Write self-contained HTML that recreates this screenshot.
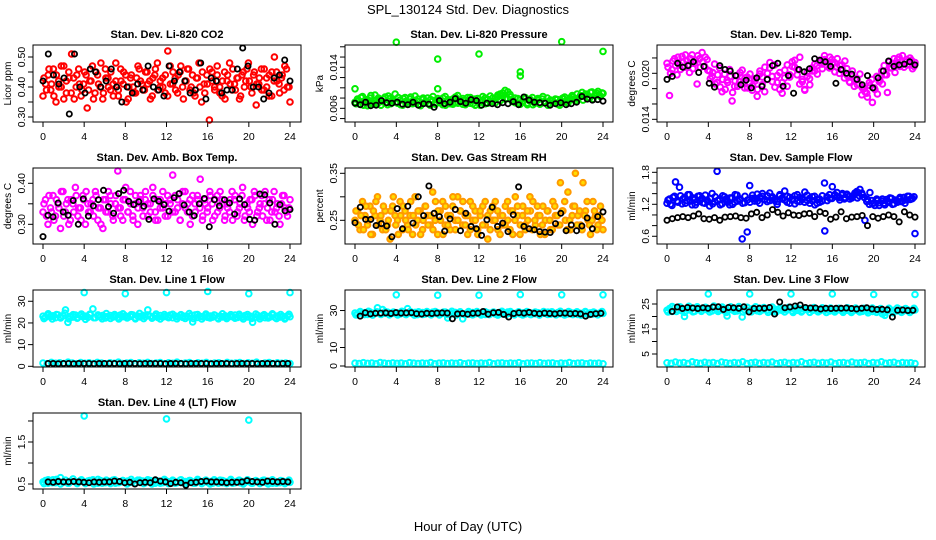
<!DOCTYPE html>
<html><head><meta charset="utf-8"><style>
html,body{margin:0;padding:0;background:#fff;}
svg{display:block;font-family:"Liberation Sans",Arial,sans-serif;}
</style></head><body>
<svg id="chart" width="936" height="540" viewBox="0 0 936 540">
<text x="468" y="14" text-anchor="middle" font-size="13">SPL_130124  Std. Dev. Diagnostics</text>
<text x="468" y="531" text-anchor="middle" font-size="13">Hour of Day (UTC)</text>
</svg>
<script>
const xTicks=[0,4,8,12,16,20,24];
const co2Main=[0.37,0.41,0.44,0.39,0.46,0.35,0.42,0.40,0.47,0.38,0.43,0.51,0.36,0.44,0.41,0.39,0.45,0.33,0.42,0.47,0.38,0.44,0.40,0.36,0.46,0.43,0.39,0.41,0.48,0.37,0.42,0.45,0.35,0.40,0.44,0.38,0.43,0.46,0.41,0.39,0.45,0.42,0.37,0.44,0.48,0.40,0.43,0.38,0.52,0.41,0.45,0.39,0.44,0.47,0.36,0.42,0.46,0.40,0.38,0.43,0.48,0.35,0.41,0.44,0.29,0.45,0.40,0.47,0.38,0.42,0.36,0.44,0.41,0.46,0.39,0.43,0.37,0.45,0.42,0.48,0.40,0.44,0.34,0.41,0.46,0.39,0.43,0.37,0.45,0.50,0.42,0.38,0.44,0.47,0.40,0.35];
const co2B=[0.43,0.39,0.46,0.41,0.37,0.44,0.40,0.47,0.36,0.42,0.45,0.38,0.43,0.40,0.46,0.37,0.41,0.44,0.39,0.42,0.36,0.45,0.41,0.48,0.38,0.43,0.40,0.45,0.37,0.42,0.39,0.46,0.41,0.44,0.36,0.43,0.40,0.38,0.47,0.42,0.39,0.45,0.41,0.36,0.43,0.46,0.39,0.42,0.40,0.44,0.37,0.47,0.41,0.43,0.38,0.45,0.40,0.42,0.46,0.39,0.44,0.37,0.43,0.40,0.45,0.38,0.41,0.46,0.42,0.39,0.44,0.40,0.37,0.45,0.42,0.48,0.39,0.41,0.43,0.36,0.44,0.40,0.46,0.42,0.38,0.45,0.41,0.43,0.39,0.46,0.40,0.44,0.37,0.42,0.45,0.41,0.43,0.39,0.46,0.40];
const co2Ref=[0.42,0.51,0.44,0.41,0.43,0.31,0.51,0.40,0.38,0.46,0.45,0.40,0.42,0.46,0.40,0.35,0.40,0.38,0.41,0.39,0.47,0.40,0.39,0.37,0.47,0.42,0.45,0.42,0.38,0.39,0.48,0.36,0.43,0.42,0.38,0.39,0.39,0.46,0.53,0.47,0.40,0.40,0.36,0.38,0.43,0.44,0.49,0.42];
const pressMain=[0.0072,0.0078,0.0068,0.0083,0.0075,0.0065,0.0080,0.0071,0.0086,0.0069,0.0077,0.0073,0.0082,0.0067,0.0079,0.0074,0.0088,0.0070,0.0076,0.0066,0.0081,0.0072,0.0078,0.0069,0.0084,0.0073,0.0068,0.0077,0.0071,0.0080,0.0066,0.0075,0.0070,0.0079,0.0072,0.0067,0.0083,0.0074,0.0069,0.0078,0.0071,0.0085,0.0073,0.0068,0.0076,0.0081,0.0070,0.0075,0.0066,0.0079,0.0072,0.0083,0.0069,0.0077,0.0074,0.0080,0.0071,0.0086,0.0075,0.0090,0.0078,0.0092,0.0082,0.0076,0.0071,0.0079,0.0068,0.0074,0.0081,0.0070,0.0077,0.0067,0.0073,0.0079,0.0069,0.0083,0.0072,0.0066,0.0076,0.0071,0.0078,0.0068,0.0075,0.0080,0.0073,0.0070,0.0077,0.0082,0.0074,0.0079,0.0085,0.0076,0.0088,0.0081,0.0091,0.0078,0.0086,0.0093,0.0083,0.0089];
const pressB=[0.0069,0.0075,0.0081,0.0066,0.0077,0.0072,0.0085,0.0068,0.0074,0.0080,0.0066,0.0078,0.0071,0.0084,0.0069,0.0076,0.0072,0.0081,0.0067,0.0079,0.0073,0.0068,0.0082,0.0075,0.0070,0.0078,0.0065,0.0080,0.0074,0.0069,0.0077,0.0083,0.0068,0.0075,0.0071,0.0080,0.0066,0.0077,0.0073,0.0068,0.0082,0.0070,0.0076,0.0079,0.0067,0.0074,0.0081,0.0069,0.0078,0.0072,0.0066,0.0076,0.0080,0.0070,0.0084,0.0073,0.0078,0.0082,0.0088,0.0084,0.0095,0.0079,0.0087,0.0073,0.0080,0.0070,0.0076,0.0072,0.0079,0.0067,0.0074,0.0081,0.0070,0.0076,0.0068,0.0078,0.0073,0.0080,0.0069,0.0075,0.0071,0.0077,0.0066,0.0079,0.0082,0.0075,0.0080,0.0085,0.0078,0.0088,0.0082,0.0091,0.0084,0.0087,0.0080,0.0092,0.0085,0.0089,0.0086,0.0090];
const pressRef=[0.0070,0.0067,0.0072,0.0065,0.0066,0.0075,0.0071,0.0070,0.0072,0.0068,0.0067,0.0072,0.0066,0.0069,0.0068,0.0062,0.0075,0.0069,0.0072,0.0079,0.0073,0.0070,0.0077,0.0075,0.0066,0.0070,0.0069,0.0067,0.0071,0.0069,0.0073,0.0067,0.0082,0.0076,0.0072,0.0071,0.0070,0.0066,0.0069,0.0071,0.0067,0.0069,0.0072,0.0083,0.0078,0.0076,0.0077,0.0074];
const pressOutHour=[0,4,8,8,12,16,16,20,24];
const pressOutVal=[0.0098,0.0189,0.0156,0.0098,0.0166,0.0131,0.0123,0.0190,0.0171];
const tempMain=[0.0213,0.0171,0.0205,0.0219,0.0198,0.0211,0.0222,0.0208,0.0216,0.0201,0.0224,0.0213,0.0186,0.0219,0.0227,0.0209,0.0218,0.0203,0.0196,0.0212,0.0188,0.0207,0.0176,0.0199,0.0191,0.0205,0.0164,0.0183,0.0197,0.0189,0.0204,0.0181,0.0195,0.0187,0.0178,0.0193,0.0170,0.0199,0.0185,0.0176,0.0192,0.0207,0.0196,0.0211,0.0188,0.0201,0.0174,0.0194,0.0183,0.0198,0.0209,0.0217,0.0205,0.0221,0.0189,0.0178,0.0196,0.0185,0.0203,0.0212,0.0199,0.0214,0.0206,0.0218,0.0209,0.0221,0.0213,0.0202,0.0219,0.0210,0.0204,0.0216,0.0197,0.0188,0.0203,0.0192,0.0185,0.0199,0.0181,0.0176,0.0169,0.0184,0.0162,0.0179,0.0173,0.0191,0.0186,0.0198,0.0175,0.0207,0.0213,0.0201,0.0218,0.0209,0.0223,0.0215,0.0211,0.0220,0.0206,0.0214];
const tempB=[0.0208,0.0200,0.0216,0.0210,0.0221,0.0205,0.0214,0.0224,0.0211,0.0219,0.0206,0.0217,0.0223,0.0208,0.0215,0.0221,0.0204,0.0193,0.0201,0.0186,0.0198,0.0182,0.0192,0.0179,0.0188,0.0196,0.0175,0.0190,0.0183,0.0201,0.0187,0.0194,0.0181,0.0199,0.0184,0.0190,0.0179,0.0203,0.0195,0.0208,0.0200,0.0214,0.0189,0.0182,0.0197,0.0179,0.0188,0.0204,0.0211,0.0195,0.0215,0.0208,0.0198,0.0186,0.0192,0.0179,0.0201,0.0193,0.0207,0.0203,0.0210,0.0217,0.0212,0.0223,0.0215,0.0207,0.0218,0.0214,0.0208,0.0200,0.0211,0.0194,0.0206,0.0189,0.0197,0.0183,0.0193,0.0186,0.0172,0.0180,0.0174,0.0188,0.0192,0.0181,0.0196,0.0189,0.0203,0.0210,0.0198,0.0215,0.0207,0.0219,0.0212,0.0221,0.0216,0.0208,0.0218,0.0212,0.0217,0.0209];
const tempRef=[0.0192,0.0196,0.0213,0.0208,0.0210,0.0215,0.0201,0.0209,0.0187,0.0182,0.0210,0.0205,0.0203,0.0197,0.0185,0.0191,0.0181,0.0194,0.0183,0.0192,0.0210,0.0213,0.0183,0.0197,0.0174,0.0205,0.0202,0.0206,0.0219,0.0217,0.0215,0.0209,0.0187,0.0205,0.0200,0.0199,0.0192,0.0185,0.0197,0.0181,0.0194,0.0203,0.0216,0.0209,0.0211,0.0212,0.0215,0.0211];
const boxMain=[0.33,0.36,0.30,0.34,0.37,0.32,0.35,0.29,0.38,0.33,0.36,0.31,0.35,0.39,0.32,0.34,0.37,0.30,0.35,0.33,0.36,0.38,0.31,0.34,0.29,0.36,0.33,0.37,0.32,0.35,0.43,0.34,0.31,0.36,0.33,0.38,0.32,0.35,0.30,0.37,0.34,0.36,0.32,0.35,0.39,0.33,0.31,0.36,0.34,0.32,0.37,0.35,0.42,0.33,0.36,0.31,0.38,0.34,0.35,0.30,0.37,0.33,0.36,0.41,0.32,0.35,0.34,0.37,0.31,0.36,0.33,0.38,0.35,0.32,0.34,0.36,0.31,0.37,0.33,0.35,0.39,0.32,0.34,0.36,0.30,0.37,0.33,0.35,0.32,0.38,0.34,0.31,0.36,0.33,0.35,0.30,0.37,0.34,0.32,0.36];
const boxB=[0.35,0.32,0.37,0.33,0.31,0.36,0.34,0.38,0.32,0.35,0.30,0.36,0.33,0.37,0.34,0.31,0.36,0.38,0.33,0.35,0.32,0.37,0.34,0.30,0.36,0.33,0.38,0.35,0.31,0.37,0.34,0.32,0.36,0.39,0.33,0.35,0.31,0.37,0.34,0.36,0.32,0.38,0.35,0.33,0.37,0.31,0.36,0.34,0.38,0.35,0.32,0.36,0.33,0.37,0.34,0.31,0.35,0.38,0.33,0.36,0.32,0.35,0.37,0.34,0.31,0.36,0.33,0.38,0.35,0.32,0.37,0.34,0.36,0.31,0.35,0.33,0.38,0.36,0.32,0.34,0.37,0.31,0.35,0.33,0.36,0.38,0.32,0.34,0.37,0.35,0.31,0.36,0.33,0.38,0.34,0.32,0.35,0.37,0.33,0.34];
const boxRef=[0.270,0.322,0.318,0.352,0.330,0.322,0.358,0.300,0.362,0.320,0.345,0.360,0.383,0.343,0.327,0.375,0.383,0.356,0.348,0.355,0.344,0.312,0.362,0.356,0.348,0.332,0.365,0.375,0.347,0.330,0.321,0.350,0.363,0.294,0.360,0.345,0.360,0.352,0.325,0.362,0.348,0.312,0.310,0.374,0.372,0.352,0.300,0.348,0.333,0.336];
const rhMain=[0.25,0.27,0.23,0.29,0.26,0.24,0.28,0.22,0.26,0.30,0.25,0.23,0.27,0.24,0.21,0.28,0.26,0.25,0.29,0.23,0.27,0.24,0.26,0.22,0.30,0.25,0.27,0.23,0.28,0.26,0.24,0.31,0.25,0.22,0.27,0.29,0.24,0.26,0.23,0.28,0.25,0.30,0.27,0.24,0.26,0.22,0.29,0.25,0.27,0.23,0.26,0.28,0.24,0.21,0.27,0.25,0.29,0.23,0.26,0.24,0.28,0.25,0.27,0.22,0.30,0.26,0.24,0.28,0.23,0.25,0.27,0.29,0.24,0.26,0.22,0.28,0.25,0.27,0.23,0.29,0.26,0.24,0.33,0.27,0.25,0.31,0.23,0.28,0.35,0.26,0.24,0.33,0.27,0.25,0.22,0.29,0.26,0.24,0.28,0.23];
const rhB=[0.27,0.24,0.26,0.23,0.28,0.25,0.22,0.27,0.29,0.24,0.26,0.28,0.23,0.25,0.27,0.30,0.24,0.22,0.26,0.28,0.25,0.23,0.29,0.26,0.24,0.27,0.22,0.25,0.28,0.24,0.26,0.23,0.29,0.27,0.25,0.22,0.28,0.24,0.26,0.30,0.23,0.25,0.27,0.29,0.24,0.26,0.23,0.28,0.25,0.22,0.27,0.24,0.29,0.26,0.23,0.28,0.25,0.27,0.22,0.26,0.24,0.29,0.23,0.27,0.25,0.28,0.22,0.26,0.24,0.27,0.30,0.23,0.25,0.28,0.26,0.24,0.22,0.27,0.25,0.23,0.28,0.26,0.24,0.27,0.29,0.23,0.25,0.26,0.28,0.24,0.27,0.23,0.26,0.29,0.24,0.25,0.27,0.23,0.26,0.25];
const rhRef=[0.245,0.278,0.252,0.252,0.239,0.243,0.238,0.215,0.275,0.232,0.280,0.244,0.300,0.260,0.323,0.265,0.258,0.227,0.253,0.273,0.228,0.265,0.237,0.232,0.218,0.251,0.278,0.237,0.244,0.226,0.262,0.321,0.237,0.232,0.230,0.226,0.225,0.224,0.243,0.265,0.228,0.240,0.228,0.238,0.255,0.232,0.258,0.268];
const flowMain=[1.22,1.30,1.18,1.35,1.26,1.52,1.21,1.33,1.27,1.38,1.19,1.29,1.24,1.36,1.31,1.22,1.28,1.17,1.40,1.25,1.82,1.30,1.21,1.34,1.27,1.19,1.32,1.24,1.37,1.28,0.55,1.23,0.68,1.55,1.31,1.26,1.39,1.22,1.35,1.29,1.25,1.41,1.32,1.27,1.20,1.36,1.30,1.45,1.24,1.33,1.28,1.21,1.38,1.25,1.31,1.43,1.27,1.22,1.34,1.19,1.29,1.24,1.36,0.70,1.27,1.31,1.53,1.38,1.34,1.28,1.40,1.33,1.37,1.30,1.35,1.41,1.32,1.48,1.38,0.90,1.29,1.42,1.21,1.18,1.27,1.23,1.30,1.19,1.25,1.32,1.20,1.28,1.24,1.33,1.26,1.22,1.35,1.29,1.31,0.65];
const flowB=[1.28,1.20,1.33,1.62,1.24,1.36,1.30,1.22,1.38,1.26,1.32,1.19,1.35,1.28,1.23,1.37,1.25,1.31,1.21,1.34,1.27,1.19,1.36,1.29,1.24,1.32,1.20,1.38,1.26,1.30,1.22,1.35,1.28,1.24,1.37,1.31,1.26,1.33,1.40,1.29,1.36,1.27,1.34,1.30,1.25,1.38,1.32,1.28,1.35,1.22,1.30,1.36,1.26,1.33,1.29,1.24,1.37,1.31,1.27,1.35,1.22,1.30,1.26,1.60,1.34,1.38,1.31,1.36,1.42,1.33,1.37,1.30,1.39,1.35,1.32,1.38,1.44,1.36,1.41,1.33,1.25,1.20,1.27,1.23,1.30,1.18,1.26,1.22,1.29,1.24,1.31,1.21,1.27,1.30,1.25,1.33,1.28,1.35,1.30,1.34];
const flowRef=[0.90,0.93,0.95,0.97,0.95,0.98,1.02,0.93,0.92,0.95,0.90,0.96,0.97,0.98,0.95,0.94,1.02,1.05,0.95,1.00,1.10,1.05,0.98,1.04,1.00,0.99,1.02,1.03,0.97,1.06,1.03,0.92,0.96,1.06,0.93,0.96,0.97,0.99,0.80,0.97,0.94,0.97,1.00,0.97,0.87,1.06,1.00,0.96];
const line1Hi=[23.1,22.6,23.5,22.9,23.3,22.4,23.7,22.8,23.2,26.0,20.3,23.0,22.7,23.6,22.5,23.4,22.9,23.1,22.6,23.8,26.5,22.4,23.2,22.8,23.5,22.3,23.0,23.4,22.7,23.1,22.5,23.6,22.9,23.3,22.6,23.0,23.7,22.4,23.2,22.8,23.5,22.9,26.0,23.1,22.6,23.3,22.5,23.4,22.8,23.0,22.7,23.6,22.4,23.2,22.9,23.5,22.6,23.1,22.8,23.3,20.5,23.7,22.5,23.0,22.9,23.4,22.6,23.2,22.7,23.5,22.4,23.1,22.8,23.3,22.6,23.0,22.9,23.6,22.5,23.2,22.7,23.4,22.8,23.1,20.3,22.6,23.5,22.9,23.3,22.4,23.0,22.8,23.6,22.5,23.2,22.7,23.1,22.4,23.3,22.9];
const line1HiB=[22.0,24.2,21.8,23.9,22.3,24.5,21.9,23.8,22.2,24.1,21.7,24.0,22.4,23.7,21.9,24.3,22.1,23.9,21.8,24.2,22.3,23.8,21.9,24.4,22.0,23.7,22.2,24.1,21.8,23.9,22.4,24.0,21.9,23.8,22.1,24.3,22.0,23.9,21.8,24.1,22.3,23.7,21.9,24.2,22.0,23.8,22.2,24.0,21.8,23.9,22.1,24.1,21.9,23.8,22.3,24.2,22.0,23.9,21.8,24.0];
const line1Lo=[1.5,1.2,1.8,1.4,1.6,1.3,1.9,1.5,1.2,1.7,1.4,1.6,1.3,1.8,1.5,1.2,1.6,1.4,1.9,1.3,1.5,1.7,1.2,1.6,1.4,1.8,1.3,1.5,1.7,1.2,1.6,1.4,1.9,1.3,1.5,1.7,1.2,1.6,1.4,1.8,1.3,1.5,1.6,1.2,1.8,1.4,1.5,1.7,1.3,1.6,1.4,1.9,1.2,1.5,1.7,1.3,1.6,1.4,1.5,1.3];
const line1Ref=[1.3,1.3,1.2,1.3,1.3,1.2,1.3,1.3,1.3,1.2,1.3,1.3,1.3,1.3,1.2,1.3,1.3,1.3,1.2,1.3,1.3,1.3,1.3,1.2,1.3,1.3,1.3,1.2,1.3,1.3,1.3,1.3,1.2,1.3,1.3,1.3,1.2,1.3,1.3,1.3,1.3,1.2,1.3,1.3,1.3,1.2,1.3,1.3];
const line1OutHour=[4,8,12,16,20,24];
const line1OutVal=[34.0,33.5,34.0,34.5,33.5,34.0];
const line2Hi=[28.6,28.1,29.0,28.4,28.8,27.9,29.2,28.3,28.7,31.5,28.2,30.5,28.5,29.1,28.0,28.9,28.4,28.6,28.1,29.3,28.2,31.0,28.7,28.3,29.0,27.8,28.5,28.9,28.2,28.6,28.0,29.1,28.4,28.8,28.1,28.5,29.2,26.0,28.7,28.3,29.0,28.4,28.6,25.5,28.1,28.8,28.0,28.9,28.3,28.5,28.2,29.1,27.9,28.7,28.4,29.0,28.1,28.6,28.3,28.8,28.0,29.2,28.5,28.5,28.4,28.9,28.1,28.7,28.2,29.0,27.9,28.6,28.3,28.8,28.1,28.5,28.4,29.1,28.0,28.7,28.2,28.9,28.3,28.6,27.8,28.1,29.0,28.4,28.8,27.9,28.5,28.3,29.1,28.0,28.7,28.2,28.6,27.9,28.8,28.4];
const line2HiB=[27.6,29.4,27.8,29.6,27.5,29.3,27.9,29.5,27.7,29.2,27.6,29.6,27.8,29.4,27.5,29.3,27.9,29.5,27.7,29.4,27.6,29.2,27.8,29.6,27.5,29.3,27.9,29.4,27.7,29.5,27.6,29.3,27.8,29.2,27.5,29.6,27.9,29.4,27.7,29.3,27.6,29.5,27.8,29.2,27.5,29.4,27.9,29.3,27.7,29.6,27.6,29.4,27.8,29.3,27.5,29.5,27.9,29.2,27.7,29.4];
const line2Lo=[1.5,1.3,1.8,1.4,1.6,1.2,1.9,1.5,1.3,1.7,1.4,1.6,1.2,1.8,1.5,1.3,1.6,1.4,1.9,1.2,1.5,1.7,1.3,1.6,1.4,1.8,1.2,1.5,1.7,1.3,1.6,1.4,1.9,1.2,1.5,1.7,1.3,1.6,1.4,1.8,1.2,1.5,1.6,1.3,1.8,1.4,1.5,1.7,1.2,1.6,1.4,1.9,1.3,1.5,1.7,1.2,1.6,1.4,1.5,1.2];
const line2Ref=[27.0,28.8,28.2,28.5,28.6,28.7,28.4,28.9,28.6,28.7,28.8,28.3,28.1,28.5,28.4,28.6,28.7,28.6,25.5,28.2,28.4,28.0,28.5,28.6,29.5,28.0,28.8,29.0,27.9,26.5,28.4,28.8,28.6,29.0,28.5,28.3,28.6,28.4,28.2,28.5,28.6,28.3,28.4,28.2,27.0,27.9,28.3,28.5];
const line2OutHour=[4,8,12,16,20,24];
const line2OutVal=[38.5,38.3,38.3,38.6,38.5,38.5];
const line3Hi=[22.5,23.2,22.0,23.5,22.8,23.9,22.3,20.0,23.0,22.6,23.4,22.1,23.7,22.9,22.4,23.3,22.7,23.1,22.2,23.6,22.8,22.5,23.0,22.3,20.2,23.4,22.6,22.9,22.2,23.2,19.8,22.7,23.5,22.4,23.1,22.8,22.3,23.3,22.6,23.0,22.5,23.4,22.1,22.9,22.7,23.2,22.4,23.0,22.6,23.3,22.2,22.8,22.5,23.1,22.3,22.9,22.7,23.2,22.4,22.6,22.8,22.3,23.0,22.5,22.9,22.2,22.7,22.4,23.1,22.6,22.3,22.8,22.5,23.0,22.2,22.7,22.4,22.9,22.1,22.6,22.3,22.8,22.0,22.5,22.7,22.2,21.0,20.5,22.4,22.9,22.1,22.6,22.3,22.8,22.0,22.5,22.7,22.2,22.4,22.6];
const line3HiB=[21.8,24.0,22.0,23.8,21.7,24.1,21.9,23.9,22.1,23.7,21.8,24.2,22.0,23.8,21.7,23.9,22.1,24.0,21.8,23.7,21.9,23.9,22.0,23.6,21.7,23.8,21.9,23.5,21.8,23.7,21.6,23.5,21.8,23.4,21.7,23.6,21.9,23.5,21.6,23.4,21.8,23.3,21.7,23.5,21.6,23.4,21.8,23.3,21.5,23.4,21.7,23.2,21.6,23.3,21.5,23.4,21.7,23.2,21.6,23.3];
const line3Lo=[1.5,1.3,1.8,1.4,1.6,1.2,1.9,1.5,1.3,1.7,1.4,1.6,1.2,1.8,1.5,1.3,1.6,1.4,1.9,1.2,1.5,1.7,1.3,1.6,1.4,1.8,1.2,1.5,1.7,1.3,1.6,1.4,1.9,1.2,1.5,1.7,1.3,1.6,1.4,1.8,1.2,1.5,1.6,1.3,1.8,1.4,1.5,1.7,1.2,1.6,1.4,1.9,1.3,1.5,1.7,1.2,1.6,1.4,1.5,1.2];
const line3Ref=[22.0,23.8,23.2,23.6,23.4,23.2,23.5,23.3,23.8,23.9,22.8,23.6,23.5,23.3,23.9,21.8,23.2,23.3,23.3,23.6,21.0,25.8,23.5,23.8,24.2,24.6,23.6,23.4,23.4,23.0,23.3,23.2,23.3,23.3,23.4,23.2,23.0,23.3,23.5,23.0,22.8,22.9,22.7,19.8,22.5,22.6,22.4,22.5];
const line3OutHour=[4,8,12,16,20,24];
const line3OutVal=[29.0,29.0,29.0,29.0,28.8,28.8];
const line4Main=[0.55,0.58,0.52,0.56,0.60,0.53,0.57,0.65,0.54,0.59,0.52,0.56,0.62,0.55,0.53,0.58,0.56,0.51,0.57,0.54,0.60,0.55,0.52,0.58,0.56,0.53,0.57,0.54,0.59,0.52,0.56,0.55,0.58,0.53,0.57,0.54,0.56,0.52,0.59,0.55,0.57,0.53,0.56,0.58,0.54,0.52,0.57,0.55,0.53,0.58,0.56,0.54,0.57,0.52,0.55,0.59,0.53,0.56,0.54,0.58,0.55,0.52,0.57,0.56,0.53,0.58,0.54,0.56,0.52,0.57,0.55,0.59,0.53,0.56,0.54,0.58,0.52,0.55,0.57,0.53,0.56,0.54,0.59,0.55,0.52,0.57,0.56,0.53,0.58,0.54,0.55,0.57,0.52,0.56,0.54,0.53,0.57,0.55,0.56,0.54];
const line4B=[0.51,0.60,0.53,0.61,0.50,0.59,0.52,0.62,0.51,0.60,0.53,0.58,0.50,0.61,0.52,0.59,0.51,0.60,0.53,0.58,0.50,0.61,0.52,0.59,0.51,0.60,0.50,0.58,0.52,0.61,0.51,0.59,0.53,0.60,0.50,0.58,0.52,0.61,0.51,0.59,0.50,0.60,0.52,0.58,0.51,0.61,0.53,0.59,0.50,0.60,0.52,0.58,0.51,0.59,0.50,0.60,0.52,0.58,0.51,0.59];
const line4Ref=[0.55,0.54,0.56,0.55,0.55,0.56,0.55,0.54,0.53,0.55,0.54,0.55,0.55,0.57,0.56,0.53,0.54,0.50,0.53,0.54,0.53,0.60,0.57,0.55,0.51,0.54,0.53,0.47,0.53,0.54,0.56,0.57,0.55,0.55,0.54,0.53,0.54,0.54,0.55,0.58,0.56,0.55,0.54,0.57,0.56,0.55,0.56,0.55];
const line4OutHour=[4,12,20];
const line4OutVal=[2.12,2.05,2.02];

const svg=document.getElementById('chart');
const NS='http://www.w3.org/2000/svg';
function mk(tag,attrs,parent){const e=document.createElementNS(NS,tag);for(const k in attrs)e.setAttribute(k,attrs[k]);(parent||svg).appendChild(e);return e;}

const cols=[[33,43,290,301],[345,355,603,613],[657,667,915,925]];
const rows=[[45,122],[168,244],[290,367],[413,489]];

const panels=[
 {name:'co2',title:'Stan. Dev. Li-820 CO2',ylab:'Licor ppm',c:0,r:0,ymin:0.2833,ymax:0.54,ticks:[0.30,0.35,0.40,0.45,0.50],labels:['0.30','','0.40','','0.50'],
  series:[{d:co2Main,col:'#ff0000'},{d:co2B,col:'#ff0000',from:0.1,to:23.9},{d:co2Ref,col:'#000'}]},
 {name:'pressure',title:'Stan. Dev. Li-820 Pressure',ylab:'kPa',c:1,r:0,ymin:0.00333,ymax:0.01835,ticks:[0.004,0.006,0.008,0.010,0.012,0.014,0.016,0.018],labels:['','0.006','','','','0.014','',''],
  series:[{d:pressMain,col:'#00ee00'},{d:pressB,col:'#00ee00',from:0.1,to:23.9},{d:pressRef,col:'#000'},{h:pressOutHour,d:pressOutVal,col:'#00ee00'}]},
 {name:'temp',title:'Stan. Dev. Li-820 Temp.',ylab:'degrees C',c:2,r:0,ymin:0.01365,ymax:0.02369,ticks:[0.014,0.016,0.018,0.020,0.022],labels:['0.014','','','0.020',''],
  series:[{d:tempMain,col:'#ff00ff'},{d:tempB,col:'#ff00ff',from:0.1,to:23.9},{d:tempRef,col:'#000'}]},
 {name:'box-temp',title:'Stan. Dev. Amb. Box Temp.',ylab:'degrees C',c:0,r:1,ymin:0.252,ymax:0.4373,ticks:[0.30,0.35,0.40],labels:['0.30','','0.40'],
  series:[{d:boxMain,col:'#ff00ff'},{d:boxB,col:'#ff00ff',from:0.1,to:23.9},{d:boxRef,col:'#000'}]},
 {name:'gas-rh',title:'Stan. Dev. Gas Stream RH',ylab:'percent',c:1,r:1,ymin:0.1996,ymax:0.3613,ticks:[0.25,0.30,0.35],labels:['0.25','','0.35'],
  series:[{d:rhMain,col:'#ff9900',fill:'#ffdd00'},{d:rhB,col:'#ff9900',fill:'#ffdd00',from:0.1,to:23.9},{d:rhRef,col:'#000'}]},
 {name:'sample-flow',title:'Stan. Dev. Sample Flow',ylab:'ml/min',c:2,r:1,ymin:0.455,ymax:1.881,ticks:[0.6,0.8,1.0,1.2,1.4,1.6,1.8],labels:['0.6','','','1.2','','','1.8'],
  series:[{d:flowMain,col:'#0000ff'},{d:flowB,col:'#0000ff',from:0.1,to:23.9},{d:flowRef,col:'#000'}]},
 {name:'line1-flow',title:'Stan. Dev. Line 1 Flow',ylab:'ml/min',c:0,r:2,ymin:-0.32,ymax:35.2,ticks:[0,10,20,30],labels:['0','10','20','30'],
  series:[{d:line1Hi,col:'#00ffff'},{d:line1HiB,col:'#00ffff',from:0.1,to:23.9},{d:line1Lo,col:'#00ffff'},{h:line1OutHour,d:line1OutVal,col:'#00ffff'},{d:line1Ref,col:'#000',from:0.5,to:23.8}]},
 {name:'line2-flow',title:'Stan. Dev. Line 2 Flow',ylab:'ml/min',c:1,r:2,ymin:-0.54,ymax:41.1,ticks:[0,10,20,30],labels:['0','10','','30'],
  series:[{d:line2Hi,col:'#00ffff'},{d:line2HiB,col:'#00ffff',from:0.1,to:23.9},{d:line2Lo,col:'#00ffff'},{h:line2OutHour,d:line2OutVal,col:'#00ffff'},{d:line2Ref,col:'#000',from:0.5,to:23.8}]},
 {name:'line3-flow',title:'Stan. Dev. Line 3 Flow',ylab:'ml/min',c:2,r:2,ymin:-0.2,ymax:30.6,ticks:[5,10,15,20,25],labels:['5','','15','','25'],
  series:[{d:line3Hi,col:'#00ffff'},{d:line3HiB,col:'#00ffff',from:0.1,to:23.9},{d:line3Lo,col:'#00ffff'},{h:line3OutHour,d:line3OutVal,col:'#00ffff'},{d:line3Ref,col:'#000',from:0.5,to:23.8}]},
 {name:'line4-flow',title:'Stan. Dev. Line 4 (LT) Flow',ylab:'ml/min',c:0,r:3,ymin:0.381,ymax:2.19,ticks:[0.5,1.0,1.5,2.0],labels:['0.5','','1.5',''],
  series:[{d:line4Main,col:'#00ffff'},{d:line4B,col:'#00ffff',from:0.1,to:23.9},{h:line4OutHour,d:line4OutVal,col:'#00ffff'},{d:line4Ref,col:'#000',from:0.5,to:23.8}]}
];

panels.forEach(p=>{
  const [bl,x0,x24,br]=cols[p.c];const [bt,bb]=rows[p.r];
  const xs=h=>x0+(x24-x0)*h/24;
  const ys=v=>bb-(v-p.ymin)/(p.ymax-p.ymin)*(bb-bt);
  const g=mk('g',{});
  
  
  const t=mk('text',{x:(bl+br)/2,y:bt-7,'text-anchor':'middle','font-size':'11','font-weight':'bold'},g);
  t.textContent=p.title;
  
  
  const yl=mk('text',{x:0,y:0,'text-anchor':'middle','font-size':'10',transform:`translate(${bl-22},${(bt+bb)/2}) rotate(-90)`},g);
  yl.textContent=p.ylab;
  
  
  const xa=mk('g',{},g);
  
  
  mk('line',{x1:xs(xTicks[0]),x2:xs(xTicks[xTicks.length-1]),y1:bb,y2:bb,stroke:'#000'},xa);
  xTicks.forEach(h=>{
    mk('line',{x1:xs(h),x2:xs(h),y1:bb,y2:bb+5,stroke:'#000'},xa);
    const tl=mk('text',{x:xs(h),y:bb+18,'text-anchor':'middle','font-size':'10.5'},xa);
    tl.textContent=String(h);
  });
  const ya=mk('g',{},g);
  
  
  mk('line',{x1:bl,x2:bl,y1:ys(p.ticks[0]),y2:ys(p.ticks[p.ticks.length-1]),stroke:'#000'},ya);
  p.ticks.forEach((v,i)=>{
    mk('line',{x1:bl-5,x2:bl,y1:ys(v),y2:ys(v),stroke:'#000'},ya);
    if(p.labels[i]){
      const tl=mk('text',{x:0,y:0,'text-anchor':'middle','font-size':'10.5',transform:`translate(${bl-8},${ys(v)}) rotate(-90)`},ya);
      tl.textContent=p.labels[i];
    }
  });
  p.series.forEach((s,si)=>{
    const isRef=s.col==='#000';
    const sg=mk('g',{fill:s.fill||'none',stroke:s.col,'stroke-width':isRef?'1.8':'2'},g);
    
    
    const a=s.from!==undefined?s.from:0, b=s.to!==undefined?s.to:24;
    s.d.forEach((v,i)=>{
      const h=s.h?s.h[i]:a+(b-a)*i/(s.d.length-1);
      const c=mk('circle',{cx:xs(h).toFixed(1),cy:ys(v).toFixed(1),r:isRef?'2.6':'2.8'},sg);
      
      
    });
  });
  const box=mk('rect',{x:bl,y:bt,width:br-bl,height:bb-bt,fill:'none',stroke:'#000'},g);
  
  
});
</script>
</body></html>
